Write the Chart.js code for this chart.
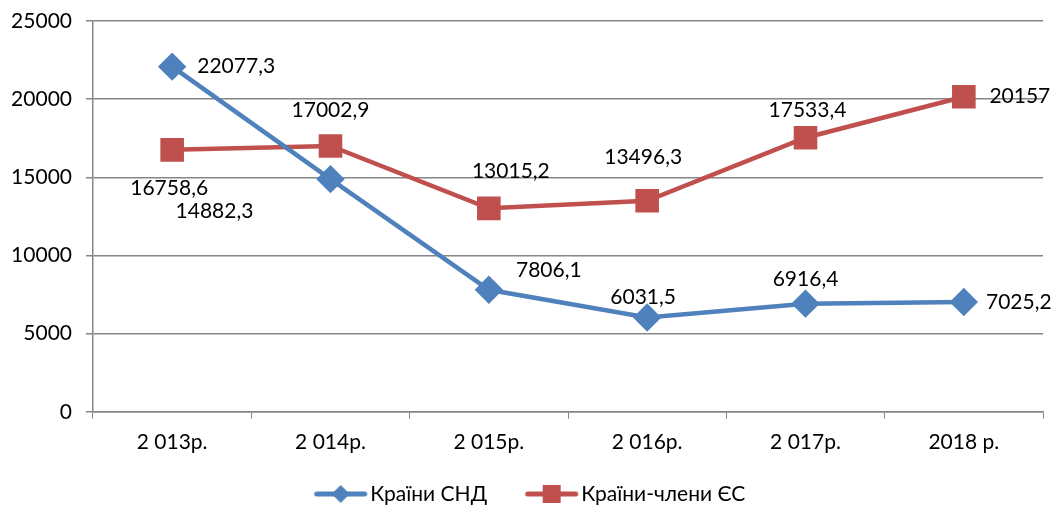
<!DOCTYPE html>
<html>
<head>
<meta charset="utf-8">
<script src="https://cdn.jsdelivr.net/npm/chart.js@4.4.0/dist/chart.umd.min.js"></script>
<style>
  html, body { margin: 0; padding: 0; background: #fff; }
  #wrap { width: 1056px; height: 506px; }
</style>
</head>
<body>
<div id="wrap"><canvas id="chart" width="1056" height="506"></canvas></div>
<script>
// дані
const roky = ['2 013р.', '2 014р.', '2 015р.', '2 016р.', '2 017р.', '2018 р.'];
const snd = [22077.3, 14882.3, 7806.1, 6031.5, 6916.4, 7025.2];
const es = [16758.6, 17002.9, 13015.2, 13496.3, 17533.4, 20157];
const yTicks = [0, 5000, 10000, 15000, 20000, 25000];

const blue = '#4F81BD';
const red = '#C0504D';
const fontFam = 'Lato, "Open Sans", sans-serif';
const fs = 21;

// зсуви підписів відносно точки [dx, dy]
const sndOffsets = [[64, 0], [-116, 32], [60, -20], [-4, -20], [0, -24], [55, 0]];
const esOffsets = [[-3, 38], [0, -36], [22, -37], [-4, -44], [2, -27], [56, 0]];

function fmt(v) {
  return String(v).replace('.', ',');
}

// іконка легенди: лінія з маркером, зсунута в полотні 100px
function legendIcon(color, shape) {
  const c = document.createElement('canvas');
  c.width = 100; c.height = 20;
  const g = c.getContext('2d');
  const a = 31;
  g.strokeStyle = color;
  g.lineWidth = 5;
  g.lineCap = 'round';
  g.beginPath(); g.moveTo(a + 3, 10); g.lineTo(a + 51, 10); g.stroke();
  g.fillStyle = color;
  const m = a + 27;
  if (shape === 'diamond') {
    g.beginPath();
    g.moveTo(m, 1); g.lineTo(m + 9, 10); g.lineTo(m, 19); g.lineTo(m - 9, 10);
    g.closePath(); g.fill();
  } else {
    g.fillRect(m - 9, 1, 18, 18);
  }
  return c;
}

const labelsPlugin = {
  id: 'valueLabels',
  afterDatasetsDraw(chart) {
    const ctx = chart.ctx;
    ctx.save();
    ctx.font = fs + 'px ' + fontFam;
    ctx.fillStyle = '#000';
    ctx.textAlign = 'center';
    ctx.textBaseline = 'middle';
    const offs = [sndOffsets, esOffsets];
    chart.data.datasets.forEach((ds, i) => {
      const meta = chart.getDatasetMeta(i);
      meta.data.forEach((pt, j) => {
        const o = offs[i][j];
        ctx.fillText(fmt(ds.data[j]), pt.x + o[0], pt.y + o[1]);
      });
    });
    ctx.restore();
  }
};

const ctx = document.getElementById('chart').getContext('2d');
new Chart(ctx, {
  type: 'line',
  data: {
    labels: roky,
    datasets: [{
      label: 'Країни СНД',
      data: snd,
      borderColor: blue,
      backgroundColor: blue,
      borderWidth: 4.5,
      pointStyle: 'rectRot',
      pointRadius: 11,
      pointHoverRadius: 11,
      tension: 0,
      clip: false
    }, {
      label: 'Країни-члени ЄС',
      data: es,
      borderColor: red,
      backgroundColor: red,
      borderWidth: 4.5,
      pointStyle: 'rect',
      pointRadius: 13.5,
      pointHoverRadius: 13.5,
      tension: 0,
      clip: false
    }]
  },
  options: {
    responsive: false,
    animation: false,
    layout: { autoPadding: false, padding: { top: 0, right: 13, left: 8, bottom: 0 } },
    plugins: {
      tooltip: { enabled: false },
      legend: {
        position: 'bottom',
        maxHeight: 52,
        labels: {
          usePointStyle: true,
          pointStyleWidth: 54,
          color: '#000',
          font: { family: fontFam, size: fs },
          padding: 29.5,
          generateLabels(chart) {
            return chart.data.datasets.map((ds, i) => ({
              text: ds.label,
              pointStyle: legendIcon(ds.borderColor, i === 0 ? 'diamond' : 'square'),
              fillStyle: ds.borderColor,
              strokeStyle: ds.borderColor,
              lineWidth: 0,
              datasetIndex: i
            }));
          }
        }
      }
    },
    scales: {
      x: {
        offset: true,
        afterFit(scale) {
          scale.paddingLeft = 0;
          scale.paddingRight = 0;
          scale.height = scale.height - 12;
        },
        grid: {
          display: true,
          drawOnChartArea: false,
          drawTicks: true,
          tickLength: 7,
          color: '#868686',
          offset: true
        },
        border: { display: true, color: '#868686', width: 1.5 },
        ticks: {
          color: '#000',
          font: { family: fontFam, size: fs },
          padding: 11,
          maxRotation: 0
        }
      },
      y: {
        min: 0,
        max: 25000,
        afterBuildTicks(scale) {
          scale.ticks = yTicks.map(v => ({ value: v }));
        },
        afterFit(scale) {
          scale.width = 85;
          scale.paddingTop = 21;
          scale.paddingBottom = 0;
        },
        grid: {
          color: '#868686',
          lineWidth: 1.5,
          tickLength: 7
        },
        border: { display: true, color: '#868686', width: 1.5 },
        ticks: {
          color: '#000',
          font: { family: fontFam, size: fs },
          padding: 14,
          callback: v => String(v)
        }
      }
    }
  },
  plugins: [labelsPlugin]
});
</script>
</body>
</html>
